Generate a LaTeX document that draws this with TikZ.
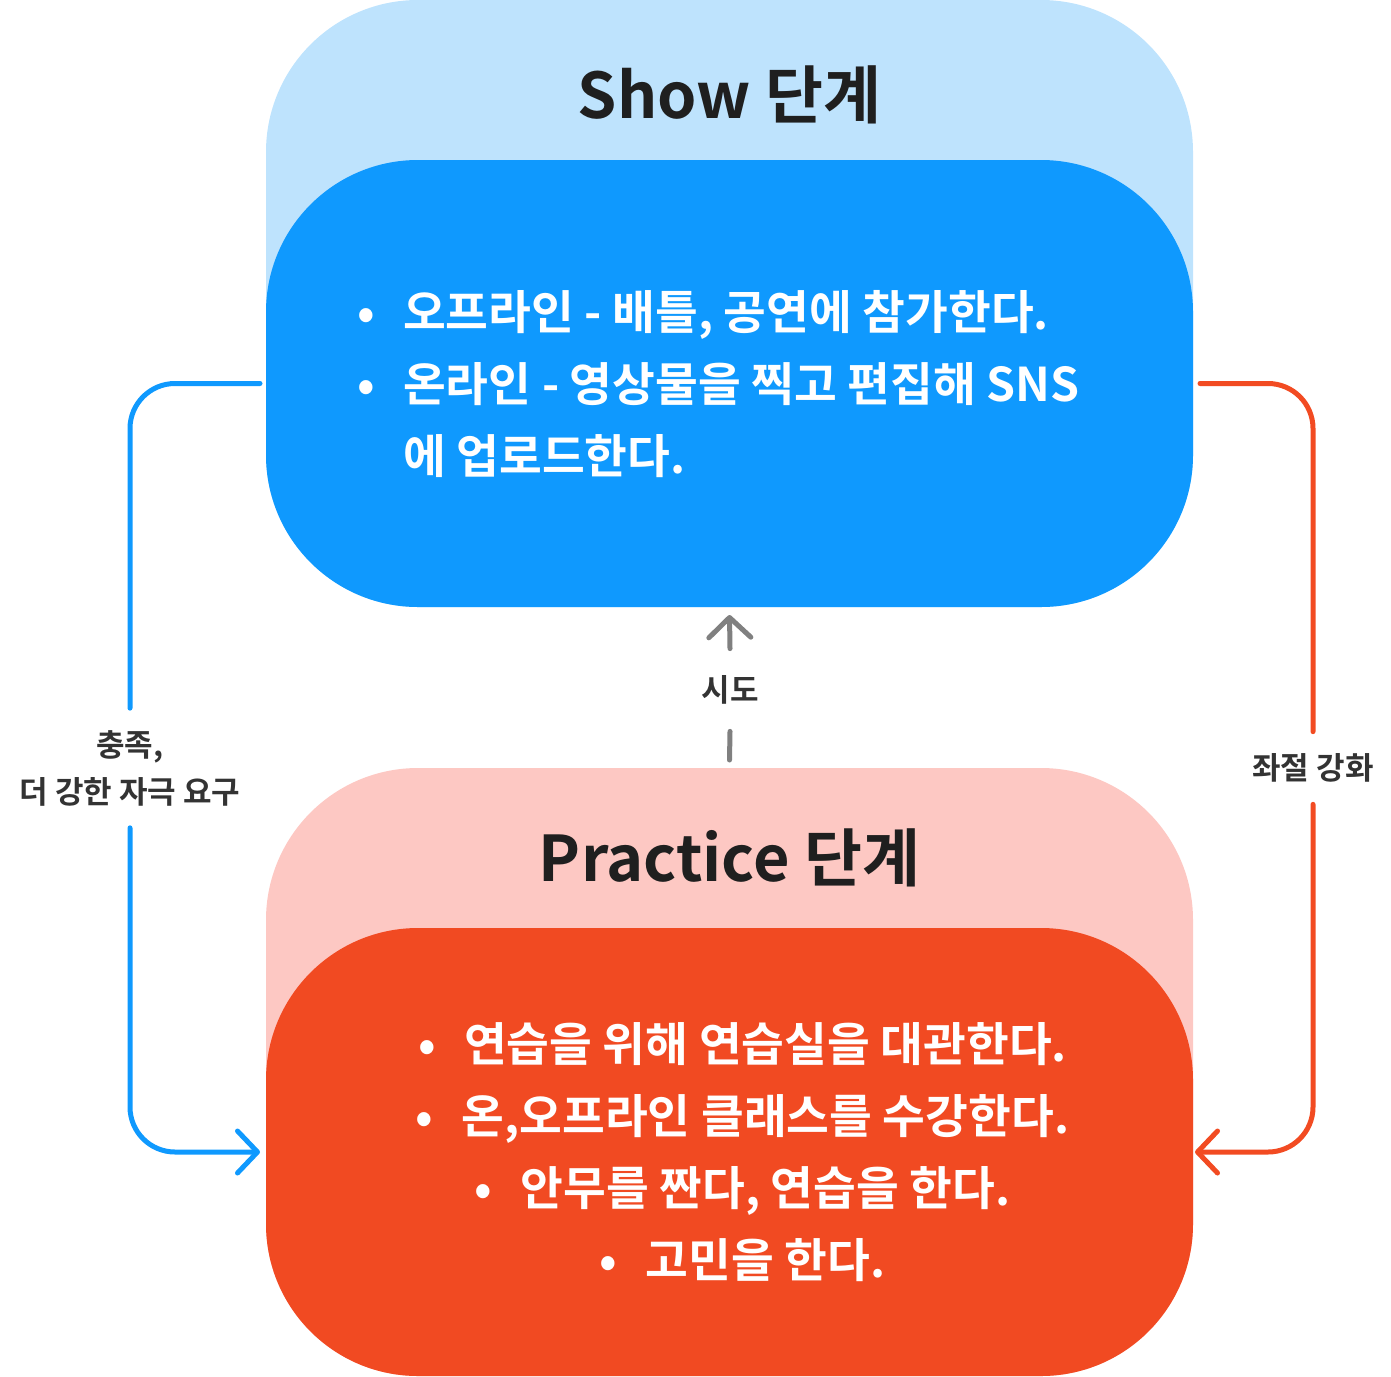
\documentclass[tikz,border=0pt]{standalone}
\usepackage{fontspec}
\setmainfont{Noto Sans CJK KR}[BoldFont={Noto Sans CJK KR Bold}]
\usetikzlibrary{arrows.meta}
\definecolor{lightblue}{HTML}{BEE3FD}
\definecolor{mainblue}{HTML}{0F99FE}
\definecolor{lightred}{HTML}{FDC8C3}
\definecolor{mainred}{HTML}{F14A22}
\definecolor{linered}{HTML}{F24B22}
\definecolor{labelgray}{HTML}{333333}
\definecolor{arrowgray}{HTML}{808080}
\newcommand\bul{\makebox[0pt][c]{•}\hspace{37pt}}
\begin{document}
\begin{tikzpicture}[x=1pt,y=-1pt,
  panel/.style={rounded corners=152pt, inner sep=0pt, outer sep=0pt, minimum width=927pt, draw=none},
  titletext/.style={font=\fontsize{63}{72}\selectfont\bfseries, text=labelgray!60!black, inner sep=0pt},
  bullettext/.style={font=\fontsize{46.5}{72}\selectfont\bfseries, text=white, inner sep=0pt},
  edgelabel/.style={font=\fontsize{31}{47}\selectfont\bfseries, text=labelgray, inner sep=0pt, align=center},
  conn/.style={line width=5pt, line cap=round, line join=round, rounded corners=45pt},
  tip/.style={-{Straight Barb[length=20pt,width=42pt,round]}}
]
\useasboundingbox (0,0) rectangle (1391,1376);

% Show stage
\node[panel, fill=lightblue, minimum height=607pt] (showouter) at (729.5,303.5) {};
\node[panel, fill=mainblue, minimum height=447pt] (showbox) at (729.5,383.5) {};
\node[titletext] (showtitle) at (729.5,95) {Show 단계};
\node[bullettext, align=left, anchor=west] (showtext) at (366,384) {\bul 오프라인 - 배틀, 공연에 참가한다.\\ \bul 온라인 - 영상물을 찍고 편집해 SNS\\ \hspace*{37pt}에 업로드한다.};

% Practice stage
\node[panel, fill=lightred, minimum height=608pt] (practouter) at (729.5,1072) {};
\node[panel, fill=mainred, minimum height=448pt] (practbox) at (729.5,1152) {};
\node[titletext] (practtitle) at (729.5,858) {Practice 단계};
\node[bullettext, align=center] (practtext) at (747,1152) {\bul 연습을 위해 연습실을 대관한다.\\ \bul 온,오프라인 클래스를 수강한다.\\ \bul 안무를 짠다, 연습을 한다.\\ \bul 고민을 한다.};

% labels
\node[edgelabel, outer ysep=22pt] (leftlabel) at (130,768) {충족,\\더 강한 자극 요구};
\node[edgelabel, outer ysep=22pt] (rightlabel) at (1313,768) {좌절 강화};
\node[edgelabel, outer ysep=27pt] (midlabel) at (730,690) {시도};

% connectors
\draw[conn, mainblue] ([xshift=-6pt]showbox.west) -| (leftlabel.north);
\draw[conn, mainblue, tip] (leftlabel.south) |- ([xshift=-6pt]practbox.west);
\draw[conn, linered] ([xshift=7pt]showbox.east) -| (rightlabel.north);
\draw[conn, linered, tip] (rightlabel.south) |- ([xshift=2pt]practbox.east);
\draw[conn, arrowgray] ([yshift=8pt]practouter.north) -- (midlabel.south);
\draw[conn, arrowgray, tip] (midlabel.north) -- ([yshift=-8pt]showbox.south);
\end{tikzpicture}
\end{document}
